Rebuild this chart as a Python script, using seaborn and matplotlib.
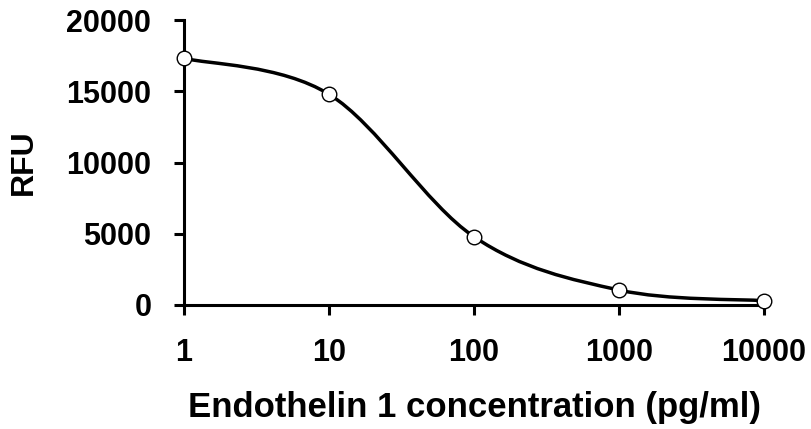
import numpy as np
import matplotlib
matplotlib.use("Agg")
import matplotlib.pyplot as plt
import seaborn as sns
from matplotlib.path import Path
from matplotlib.patches import PathPatch

# Standard curve: Endothelin 1 concentration vs fluorescence
conc = [1, 10, 100, 1000, 10000]
rfu = [17310, 14790, 4790, 1050, 300]
x_ticks = [1, 10, 100, 1000, 10000]
x_tick_labels = ["1", "10", "100", "1000", "10000"]
y_ticks = [0, 5000, 10000, 15000, 20000]

sns.set_style("ticks")
plt.rcParams["font.family"] = ["Liberation Sans", "DejaVu Sans"]
plt.rcParams["text.color"] = "black"
plt.rcParams["xtick.labelcolor"] = "black"
plt.rcParams["ytick.labelcolor"] = "black"

fig = plt.figure(figsize=(8.12, 4.29), dpi=100)
ax = fig.add_axes([184 / 812, 1 - 305 / 429, (764 - 184) / 812, (305 - 20) / 429])
ax.set_xscale("log")

# smoothed line (Catmull-Rom style bezier, like a spreadsheet "smoothed line")
pts = np.column_stack([np.log10(conc), rfu]).astype(float)
ext = np.vstack([pts[0], pts, pts[-1]])
verts = [pts[0]]
for i in range(len(pts) - 1):
    p0, p1, p2, p3 = ext[i], ext[i + 1], ext[i + 2], ext[i + 3]
    verts += [p1 + (p2 - p0) / 6, p2 - (p3 - p1) / 6, p2]
verts = np.array(verts)
verts[:, 0] = 10 ** verts[:, 0]
codes = [Path.MOVETO] + [Path.CURVE4] * (len(verts) - 1)
ax.add_patch(PathPatch(Path(verts, codes), facecolor="none", edgecolor="black",
                       lw=2.5, clip_on=False, zorder=2))

sns.scatterplot(x=conc, y=rfu, ax=ax, s=110, color="white", edgecolor="black",
                linewidth=1.0, zorder=3, clip_on=False)

ax.set_xlim(1, 10000)
ax.set_ylim(0, 20000)
ax.set_xticks(x_ticks)
ax.set_xticklabels(x_tick_labels)
ax.xaxis.set_minor_locator(matplotlib.ticker.NullLocator())
ax.set_yticks(y_ticks)

for side in ["top", "right"]:
    ax.spines[side].set_visible(False)
for side in ["left", "bottom"]:
    ax.spines[side].set_linewidth(2.2)
    ax.spines[side].set_color("black")
ax.tick_params(axis="both", length=7.5, width=2.2, color="black", pad=16,
               labelsize=22, labelcolor="black")
for lab in ax.get_xticklabels() + ax.get_yticklabels():
    lab.set_fontweight("bold")

fig.text(23.5 / 812, 1 - 162 / 429, "RFU", rotation=90, ha="center", va="center",
         fontsize=23, fontweight="bold", color="black")
fig.text(474.5 / 812, 1 - 407 / 429, "Endothelin 1 concentration (pg/ml)",
         ha="center", va="center", fontsize=25, fontweight="bold", color="black")

fig.savefig("out.png", dpi=100)
